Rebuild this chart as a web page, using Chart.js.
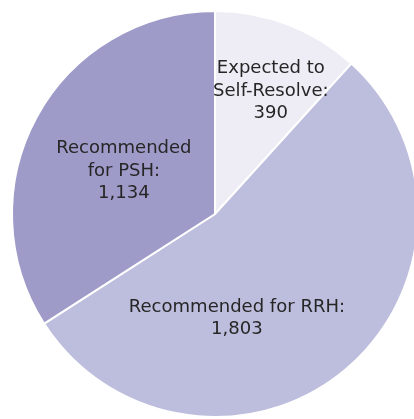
<!DOCTYPE html>
<html>
<head>
<meta charset="utf-8">
<script src="https://cdn.jsdelivr.net/npm/chart.js@4/dist/chart.umd.min.js"></script>
<style>
    html, body { margin: 0; padding: 0; background: #fff; overflow: hidden; }
    #wrap { position: absolute; left: 0; top: 0; width: 430px; height: 428px; }
</style>
</head>
<body>
<div id="wrap"><canvas id="pieChart" width="430" height="428"></canvas></div>
<script>
// 차트 데이터 (위에서 시계방향 순서)
const categories = ['Expected to Self-Resolve', 'Recommended for RRH', 'Recommended for PSH'];
const values = [390, 1803, 1134];
// 라벨 줄바꿈
const labelLines = [
    ['Expected to', 'Self-Resolve:'],
    ['Recommended for RRH:'],
    ['Recommended', 'for PSH:']
];
const colors = ['#EEEDF6', '#BDBDDD', '#9E9BC9'];

// 라벨 위치 (반지름 비율, 중심 기준)
const labelOffsets = [[0.275, -0.613], [0.108, 0.507], [-0.449, -0.22]];

const sliceLabels = {
    id: 'sliceLabels',
    afterDatasetsDraw(chart) {
        const ctx = chart.ctx;
        const arcs = chart.getDatasetMeta(0).data;
        ctx.save();
        ctx.font = '17.5px "DejaVu Sans"';
        ctx.fillStyle = '#262626';
        ctx.textAlign = 'center';
        ctx.textBaseline = 'alphabetic';
        arcs.forEach((arc, i) => {
            const r = arc.outerRadius;
            const cx = arc.x + labelOffsets[i][0] * r;
            const cy = arc.y + labelOffsets[i][1] * r;
            const lines = labelLines[i].concat([values[i].toLocaleString('en-US')]);
            const lh = 22.5;
            lines.forEach((t, j) => {
                const y = cy + 6.3 + (j - (lines.length - 1) / 2) * lh;
                ctx.save();
                ctx.translate(cx, y);
                ctx.scale(1.03, 1);
                ctx.fillText(t, 0, 0);
                ctx.restore();
            });
        });
        ctx.restore();
    }
};

const ctx = document.getElementById('pieChart').getContext('2d');
const chart = new Chart(ctx, {
    type: 'pie',
    data: {
        labels: categories,
        datasets: [{
            data: values,
            backgroundColor: colors,
            borderColor: '#ffffff',
            borderWidth: 2
        }]
    },
    options: {
        responsive: false,
        animation: false,
        devicePixelRatio: 1,
        layout: { padding: { left: 11, right: 11, top: 10, bottom: 10 } },
        plugins: {
            legend: { display: false },
            tooltip: { enabled: false }
        }
    },
    plugins: [sliceLabels]
});
</script>
</body>
</html>
